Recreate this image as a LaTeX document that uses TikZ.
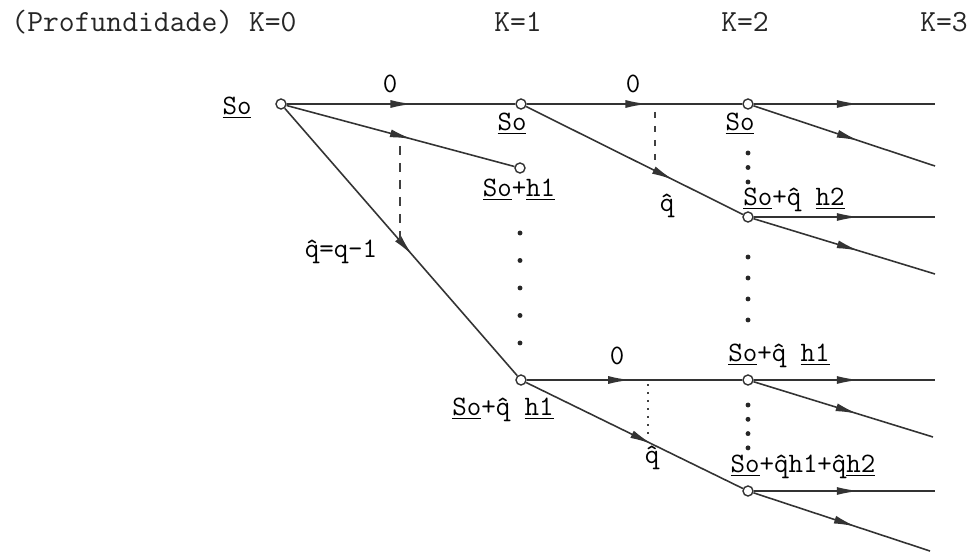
\documentclass[tikz,border=0pt]{standalone}
\usetikzlibrary{arrows.meta, decorations.markings}

\newcommand{\qhat}{\^{q}}

\tikzset{
  vtx/.style={circle, draw=black!80, fill=white, inner sep=0pt, minimum size=0.2cm, line width=0.8pt},
  edge/.style={line width=0.9pt, black!80},
  flow/.style={edge, postaction={decorate},
    decoration={markings, mark=at position #1 with {\arrow{Latex[length=0.44cm,width=0.16cm]}}}},
  flow/.default=0.58,
  lbl/.style={inner sep=1pt, text=black},
  hdr/.style={inner sep=0pt, text=black!85, font=\ttfamily\fontsize{17.5}{19}\selectfont},
  drop/.style={line width=0.7pt, black!75},
  dotcol/.style={line width=2.8pt, line cap=round, black!85}
}

\begin{document}
\begin{tikzpicture}[x=0.02cm, y=-0.02cm, font=\ttfamily\fontsize{16}{18}\selectfont]
\useasboundingbox (0,0) rectangle (971,554);

% depth of the tree
\node[hdr] (k0) at (154,22) {(Profundidade) K=0};
\node[hdr] (k1) at (518,22) {K=1};
\node[hdr] (k2) at (745,22) {K=2};
\node[hdr] (k3) at (944,22) {K=3};

% states
\node[vtx] (r)  at (281,104) {};
\node[vtx] (a1) at (521,104) {};
\node[vtx] (a2) at (520,168) {};
\node[vtx] (a3) at (521,380) {};
\node[vtx] (b1) at (748,104) {};
\node[vtx] (b2) at (748,217) {};
\node[vtx] (b3) at (748,380) {};
\node[vtx] (b4) at (748,491) {};

% open ends at K=3
\coordinate (e1) at (935,104);
\coordinate (e2) at (935,166);
\coordinate (e3) at (935,217);
\coordinate (e4) at (935,274);
\coordinate (e5) at (935,380);
\coordinate (e6) at (933,437);
\coordinate (e7) at (935,491);
\coordinate (e8) at (930,551);

% branches
\draw[flow=0.55] (r) -- (a1);
\draw[flow=0.55] (r) -- (a2);
\draw[flow=0.55] (r) -- (a3);
\draw[flow=0.56] (a1) -- (b1);
\draw[flow=0.68] (a1) -- (b2);
\draw[flow=0.48] (a3) -- (b3);
\draw[flow=0.58] (a3) -- (b4);
\draw[flow] (b1) -- (e1);
\draw[flow] (b1) -- (e2);
\draw[flow] (b2) -- (e3);
\draw[flow] (b2) -- (e4);
\draw[flow] (b3) -- (e5);
\draw[flow] (b3) -- (e6);
\draw[flow] (b4) -- (e7);
\draw[flow] (b4) -- (e8);

% step marks
\node[lbl] (z1) at (390,84) {0};
\node[lbl] (z2) at (633,84) {0};
\node[lbl] (z3) at (617,356) {0};
\node[lbl] (q1) at (341,252) {\qhat=q-1};
\node[lbl] (q2) at (667,206) {\qhat};
\node[lbl] (q3) at (652,458) {\qhat};

% state labels
\node[lbl] (lr)  at (237,108) {\underline{So}};
\node[lbl] (la1) at (512,124) {\underline{So}};
\node[lbl] (la2) at (519,190) {\underline{So}+\underline{h1}};
\node[lbl] (la3) at (503,410) {\underline{So}+\qhat{} \underline{h1}};
\node[lbl] (lb1) at (740,124) {\underline{So}};
\node[lbl] (lb2) at (794,200) {\underline{So}+\qhat{} \underline{h2}};
\node[lbl] (lb3) at (779,356) {\underline{So}+\qhat{} \underline{h1}};
\node[lbl] (lb4) at (803,467) {\underline{So}+\qhat{}h1+\qhat{}\underline{h2}};

% drops between branches
\coordinate (d1a) at (400,146);
\coordinate (d1b) at (400,240);
\coordinate (d2a) at (655,112);
\coordinate (d2b) at (655,166);
\coordinate (d3a) at (648,384);
\coordinate (d3b) at (648,438);
\draw[drop, dash pattern=on 0.18cm off 0.16cm] (d1a) -- (d1b);
\draw[drop, dash pattern=on 0.12cm off 0.16cm] (d2a) -- (d2b);
\draw[drop, dash pattern=on 0.04cm off 0.12cm] (d3a) -- (d3b);

% omitted states
\draw[dotcol, dash pattern=on 0pt off 0.55cm] (520,233) -- (520,345);
\draw[dotcol, dash pattern=on 0pt off 0.29cm] (748,153) -- (748,183);
\draw[dotcol, dash pattern=on 0pt off 0.42cm] (748,257) -- (748,321);
\draw[dotcol, dash pattern=on 0pt off 0.286cm] (748,405) -- (748,449);
\end{tikzpicture}
\end{document}
